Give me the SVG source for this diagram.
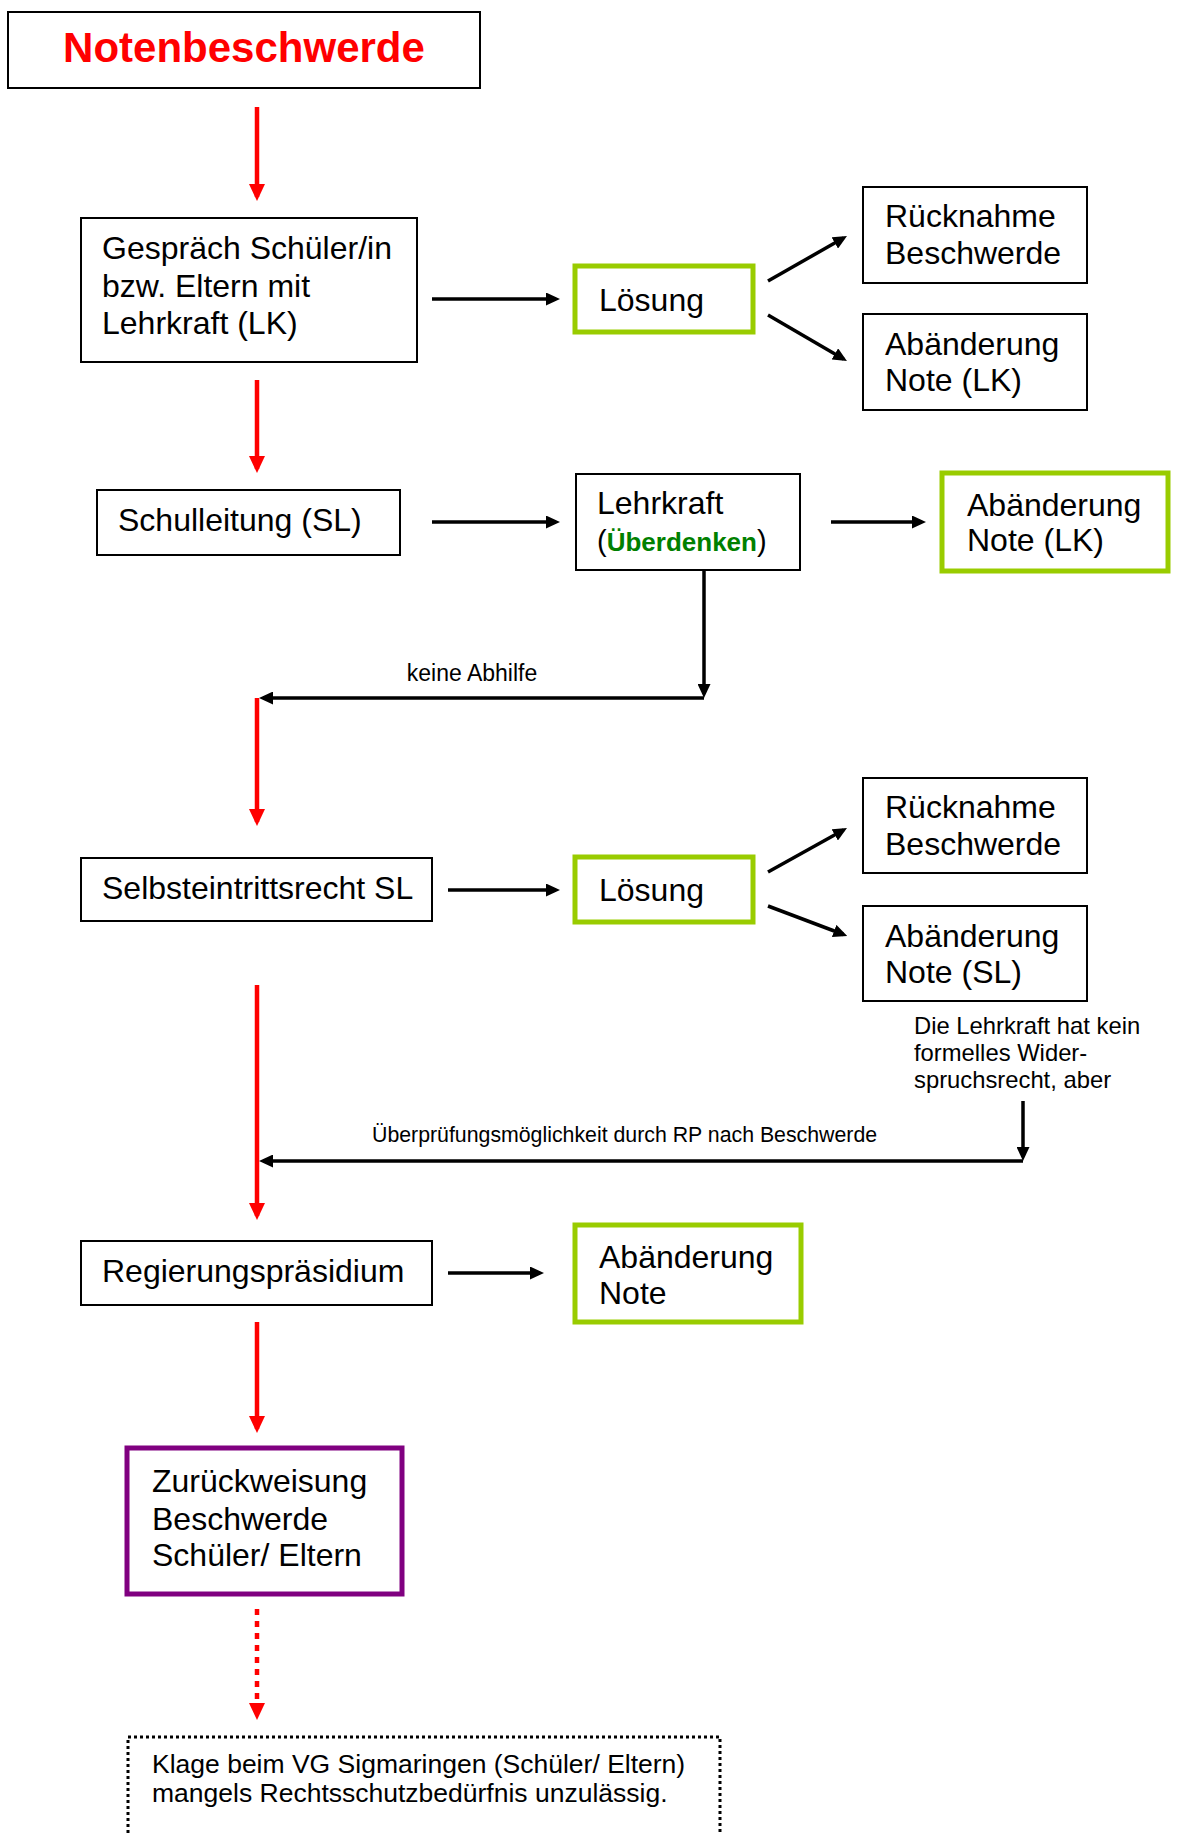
<svg xmlns="http://www.w3.org/2000/svg" width="1177" height="1834" viewBox="0 0 1177 1834">
<style>
.box{fill:#fff;stroke:#000;stroke-width:2}
.gbox{fill:#fff;stroke:#99CC00;stroke-width:5}
.pbox{fill:#fff;stroke:#800080;stroke-width:5}
.dbox{fill:#fff;stroke:#000;stroke-width:3;stroke-dasharray:3 3}
.t{font-family:"Liberation Sans",Arial,sans-serif;font-size:32px;fill:#000}
.s{font-family:"Liberation Sans",Arial,sans-serif;font-size:23px;fill:#000}
.blk{stroke:#000;stroke-width:3.5;fill:none}
.red{stroke:#FF0000;stroke-width:4.5;fill:none}
</style>
<defs>
<marker id="ab" viewBox="0 0 14 13" refX="10" refY="6.5" markerWidth="14" markerHeight="13" markerUnits="userSpaceOnUse" orient="auto"><path d="M0,0 L14,6.5 L0,13 z" fill="#000"/></marker>
<marker id="ar" viewBox="0 0 17 16" refX="13" refY="8" markerWidth="17" markerHeight="16" markerUnits="userSpaceOnUse" orient="auto"><path d="M0,0 L17,8 L0,16 z" fill="#FF0000"/></marker>
</defs>

<g id="connectors">
<line class="red" x1="257" y1="107" x2="257" y2="197" marker-end="url(#ar)"/>
<line class="red" x1="257" y1="380" x2="257" y2="469" marker-end="url(#ar)"/>
<line class="red" x1="257" y1="698" x2="257" y2="822" marker-end="url(#ar)"/>
<line class="red" x1="257" y1="985" x2="257" y2="1216" marker-end="url(#ar)"/>
<line class="red" x1="257" y1="1322" x2="257" y2="1429" marker-end="url(#ar)"/>
<line class="red" x1="257" y1="1609" x2="257" y2="1716" stroke-dasharray="6 6" marker-end="url(#ar)"/>

<line class="blk" x1="432" y1="299" x2="556" y2="299" marker-end="url(#ab)"/>
<line class="blk" x1="768" y1="281" x2="843.5" y2="238" marker-end="url(#ab)"/>
<line class="blk" x1="768" y1="315" x2="843.5" y2="359" marker-end="url(#ab)"/>
<line class="blk" x1="432" y1="522" x2="556" y2="522" marker-end="url(#ab)"/>
<line class="blk" x1="831" y1="522" x2="922" y2="522" marker-end="url(#ab)"/>
<line class="blk" x1="704" y1="570" x2="704" y2="694" marker-end="url(#ab)"/>
<line class="blk" x1="704" y1="698" x2="263" y2="698" marker-end="url(#ab)"/>
<line class="blk" x1="448" y1="890" x2="556" y2="890" marker-end="url(#ab)"/>
<line class="blk" x1="768" y1="872" x2="843.5" y2="830" marker-end="url(#ab)"/>
<line class="blk" x1="768" y1="906" x2="843.5" y2="934.5" marker-end="url(#ab)"/>
<line class="blk" x1="1023" y1="1101" x2="1023" y2="1157" marker-end="url(#ab)"/>
<line class="blk" x1="1023" y1="1161" x2="263" y2="1161" marker-end="url(#ab)"/>
<line class="blk" x1="448" y1="1273" x2="540" y2="1273" marker-end="url(#ab)"/>
<text class="s" x="472" y="681" text-anchor="middle">keine Abhilfe</text>
<text class="s" x="372" y="1142" style="font-size:21.3px">Überprüfungsmöglichkeit durch RP nach Beschwerde</text>
<text class="s" x="914" y="1034" style="font-size:23.8px">Die Lehrkraft hat kein</text>
<text class="s" x="914" y="1061" style="font-size:23.8px">formelles Wider-</text>
<text class="s" x="914" y="1088" style="font-size:23.8px">spruchsrecht, aber</text>
</g>

<g id="n-title">
<rect class="box" x="8" y="12" width="472" height="76"/>
<text x="244" y="62" text-anchor="middle" style="font-family:'Liberation Sans',Arial,sans-serif;font-size:42px;font-weight:bold;fill:#FF0000">Notenbeschwerde</text>
</g>

<g id="n-gespraech">
<rect class="box" x="81" y="218" width="336" height="144"/>
<text class="t" x="102" y="259">Gespräch Schüler/in</text>
<text class="t" x="102" y="297">bzw. Eltern mit</text>
<text class="t" x="102" y="334">Lehrkraft (LK)</text>
</g>

<g id="n-loesung1">
<rect class="gbox" x="575" y="266" width="178" height="66"/>
<text class="t" x="599" y="311">Lösung</text>
</g>

<g id="n-ruecknahme1">
<rect class="box" x="863" y="187" width="224" height="96"/>
<text class="t" x="885" y="227">Rücknahme</text>
<text class="t" x="885" y="264">Beschwerde</text>
</g>

<g id="n-aenderung-lk1">
<rect class="box" x="863" y="314" width="224" height="96"/>
<text class="t" x="885" y="355">Abänderung</text>
<text class="t" x="885" y="391">Note (LK)</text>
</g>

<g id="n-schulleitung">
<rect class="box" x="97" y="490" width="303" height="65"/>
<text class="t" x="118" y="531">Schulleitung (SL)</text>
</g>

<g id="n-lehrkraft">
<rect class="box" x="576" y="474" width="224" height="96"/>
<text class="t" x="597" y="514">Lehrkraft</text>
<text class="t" x="597" y="551" style="font-size:29px">(<tspan style="font-weight:bold;fill:#008000;font-size:26px">Überdenken</tspan>)</text>
</g>

<g id="n-aenderung-lk2">
<rect class="gbox" x="942" y="473" width="226" height="98"/>
<text class="t" x="967" y="516">Abänderung</text>
<text class="t" x="967" y="551">Note (LK)</text>
</g>

<g id="n-selbsteintritt">
<rect class="box" x="81" y="858" width="351" height="63"/>
<text class="t" x="102" y="899">Selbsteintrittsrecht SL</text>
</g>

<g id="n-loesung2">
<rect class="gbox" x="575" y="857" width="178" height="65"/>
<text class="t" x="599" y="901">Lösung</text>
</g>

<g id="n-ruecknahme2">
<rect class="box" x="863" y="778" width="224" height="95"/>
<text class="t" x="885" y="818">Rücknahme</text>
<text class="t" x="885" y="855">Beschwerde</text>
</g>

<g id="n-aenderung-sl">
<rect class="box" x="863" y="906" width="224" height="95"/>
<text class="t" x="885" y="947">Abänderung</text>
<text class="t" x="885" y="983">Note (SL)</text>
</g>

<g id="n-rp">
<rect class="box" x="81" y="1241" width="351" height="64"/>
<text class="t" x="102" y="1282">Regierungspräsidium</text>
</g>

<g id="n-aenderung-rp">
<rect class="gbox" x="575" y="1225" width="226" height="97"/>
<text class="t" x="599" y="1268">Abänderung</text>
<text class="t" x="599" y="1304">Note</text>
</g>

<g id="n-zurueckweisung">
<rect class="pbox" x="127" y="1448" width="275" height="146"/>
<text class="t" x="152" y="1492">Zurückweisung</text>
<text class="t" x="152" y="1530">Beschwerde</text>
<text class="t" x="152" y="1566">Schüler/ Eltern</text>
</g>

<g id="n-klage">
<rect class="dbox" x="128" y="1737" width="592" height="110"/>
<text class="s" x="152" y="1773" style="font-size:26.5px">Klage beim VG Sigmaringen (Schüler/ Eltern)</text>
<text class="s" x="152" y="1802" style="font-size:26.5px">mangels Rechtsschutzbedürfnis unzulässig.</text>
</g>
</svg>
